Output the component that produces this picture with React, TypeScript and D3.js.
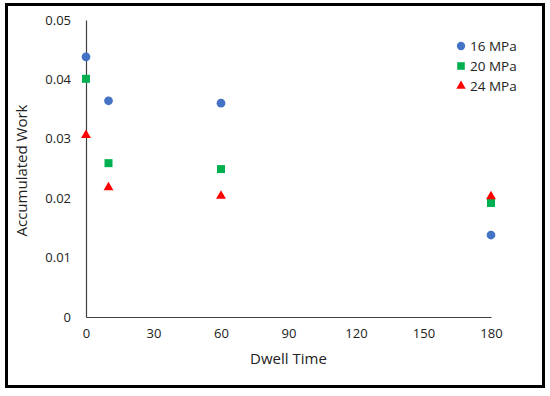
import { useEffect, useRef } from "react"
import * as d3 from "d3"

const dwellTimes = [0, 10, 60, 180]
const seriesNames = ["16 MPa", "20 MPa", "24 MPa"]
const work16 = [0.0438, 0.0364, 0.036, 0.0138]
const work20 = [0.0401, 0.0259, 0.0249, 0.0192]
const work24 = [0.0306, 0.0218, 0.0204, 0.0203]
const xTicks = [0, 30, 60, 90, 120, 150, 180]
const yTicks = [0, 0.01, 0.02, 0.03, 0.04, 0.05]

const colors = ["#4472C4", "#00B050", "#FF0000"]
const shapes = [d3.symbolCircle, d3.symbolSquare, d3.symbolTriangle]
const sizes = [60, 64, 42]

export default function App() {
  const svgRef = useRef<SVGSVGElement>(null)

  useEffect(() => {
    if (!svgRef.current) return
    const width = 550
    const height = 396
    const margin = { top: 20, right: 59, bottom: 79, left: 86 }
    const innerWidth = width - margin.left - margin.right
    const innerHeight = height - margin.top - margin.bottom

    const svg = d3.select(svgRef.current)
    svg.selectAll("*").remove()

    // white page with black frame
    svg.append("rect").attr("width", width).attr("height", height).attr("fill", "#fff")
    svg.append("rect")
      .attr("x", 6.5).attr("y", 4.5)
      .attr("width", 537).attr("height", 382)
      .attr("fill", "none").attr("stroke", "#000").attr("stroke-width", 3)

    const xScale = d3.scaleLinear().domain([0, 180]).range([0, innerWidth])
    const yScale = d3.scaleLinear().domain([0, 0.05]).range([innerHeight, 0])

    const g = svg.append("g").attr("transform", `translate(${margin.left},${margin.top})`)
    const font = "'Open Sans', 'Noto Sans', sans-serif"

    // x axis
    const xAxis = g.append("g")
      .attr("transform", `translate(0,${innerHeight})`)
      .call(d3.axisBottom(xScale).tickValues(xTicks).tickSize(0).tickPadding(12).tickFormat(d3.format("d")))
    xAxis.select(".domain").attr("stroke", "#404040").attr("stroke-width", 1.2)
    xAxis.selectAll("text").attr("fill", "#222").attr("font-size", "13px").attr("font-family", font)

    // y axis
    const yAxis = g.append("g")
      .call(d3.axisLeft(yScale).tickValues(yTicks).tickSize(0).tickPadding(15)
        .tickFormat((d) => (d === 0 ? "0" : d3.format(".2f")(d as number))))
    yAxis.select(".domain").attr("stroke", "#404040").attr("stroke-width", 1.2)
    yAxis.selectAll("text").attr("fill", "#222").attr("font-size", "13px").attr("font-family", font)

    // axis titles
    g.append("text")
      .attr("x", innerWidth / 2)
      .attr("y", innerHeight + 47)
      .attr("text-anchor", "middle")
      .attr("fill", "#222")
      .attr("font-size", "15px")
      .attr("font-family", font)
      .text("Dwell Time")

    g.append("text")
      .attr("transform", "rotate(-90)")
      .attr("x", -innerHeight / 2 - 2)
      .attr("y", -margin.left + 27)
      .attr("text-anchor", "middle")
      .attr("fill", "#222")
      .attr("font-size", "15px")
      .attr("font-family", font)
      .text("Accumulated Work")

    // markers
    const allSeries = [work16, work20, work24]
    allSeries.forEach((values, i) => {
      const sym = d3.symbol().type(shapes[i]).size(sizes[i])
      g.selectAll(`.pt-${i}`)
        .data(values)
        .enter()
        .append("path")
        .attr("class", `pt-${i}`)
        .attr("transform", (d, j) => `translate(${xScale(dwellTimes[j])},${yScale(d)})`)
        .attr("d", sym()!)
        .attr("fill", colors[i])
    })

    // legend
    const legend = svg.append("g").attr("transform", "translate(461,46)")
    seriesNames.forEach((name, i) => {
      const row = legend.append("g").attr("transform", `translate(0,${i * 20})`)
      row.append("path")
        .attr("d", d3.symbol().type(shapes[i]).size(sizes[i] * 0.9)()!)
        .attr("fill", colors[i])
      row.append("text")
        .attr("x", 9)
        .attr("y", 0)
        .attr("dy", "0.35em")
        .attr("fill", "#222")
        .attr("font-size", "13.5px")
        .attr("font-family", font)
        .text(name)
    })
  }, [])

  return (
    <svg
      ref={svgRef}
      width={550}
      height={396}
      style={{ position: "absolute", left: 0, top: 0 }}
    />
  )
}
